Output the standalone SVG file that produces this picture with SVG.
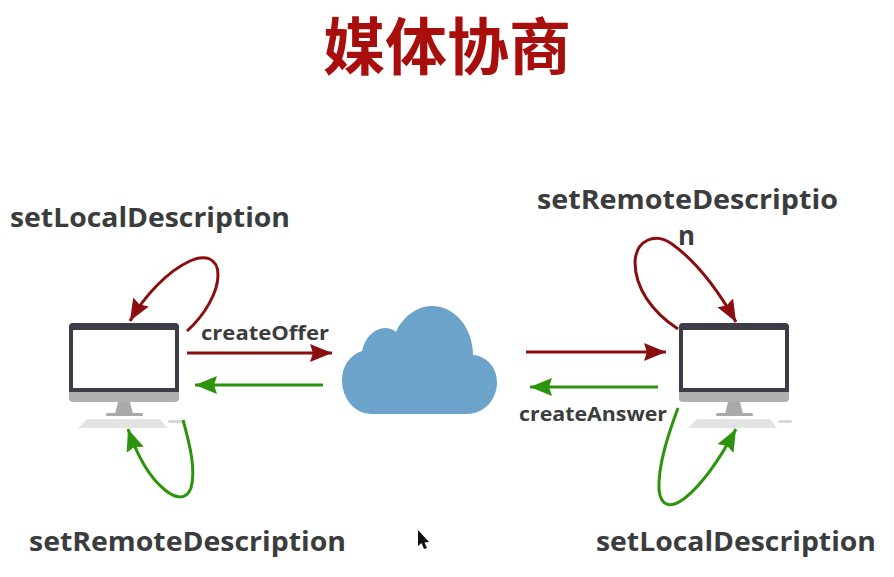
<svg xmlns="http://www.w3.org/2000/svg" width="894" height="577" viewBox="0 0 894 577">
<style>
.t{font-family:"Open Sans","Noto Sans","Liberation Sans",sans-serif;font-weight:700;fill:#3a3c3e}
.big{font-size:26px}
.small{font-size:19px}
.title{font-family:"Noto Sans CJK SC","Liberation Sans",sans-serif;font-weight:700;font-size:62px;fill:#a80f0c}
.c{fill:none;stroke-width:3px;stroke-linecap:butt}
.red{stroke:#8b0e0e}
.green{stroke:#2c930c}
</style>
<defs>
<marker id="ar" markerUnits="userSpaceOnUse" markerWidth="24" markerHeight="20" refX="22" refY="9" orient="auto"><path d="M0,0L22,9L0,18L3,9Z" fill="#8b0e0e"/></marker>
<marker id="ag" markerUnits="userSpaceOnUse" markerWidth="24" markerHeight="20" refX="22" refY="9" orient="auto"><path d="M0,0L22,9L0,18L3,9Z" fill="#2c930c"/></marker>
<g id="pc">
<rect x="69" y="323" width="110" height="79" rx="4" fill="#b0b0b0"/>
<path d="M69,392V327a4,4 0 0 1 4-4H175a4,4 0 0 1 4,4V392Z" fill="#3b3d47"/>
<rect x="73" y="330" width="102" height="58" fill="#fff"/>
<path d="M118,402H130L133,414H115Z" fill="#a9a9a9"/>
<rect x="106" y="413" width="37" height="3" rx="1.5" fill="#a9a9a9"/>
<path d="M87,419H160L167,428H78Z" fill="#e3e3e3"/>
<rect x="168" y="420" width="14" height="3" rx="1.5" fill="#d8d8d8"/>
</g>
</defs>
<rect width="894" height="577" fill="#fff"/>
<text id="title" class="title" x="447" y="70" text-anchor="middle" textLength="248" lengthAdjust="spacingAndGlyphs">媒体协商</text>
<g id="computer-left"><use href="#pc"/></g>
<g id="computer-right"><use href="#pc" x="610"/></g>
<g id="cloud"><path d="M372,414C354,414 342,398 342,380C342,366 350,355 362,351C365,337 375,328 385,328C389,328 393,329 396,332C403,316 418,306 432,306C455,306 473,328 473,355C487,356 497,368 497,382C497,400 484,414 467,414Z" fill="#6ba3cb"/></g>
<g id="connectors">
<path class="c red" marker-end="url(#ar)" d="M187,331C205,315 218,292 218,275C218,258 205,254 190,261C168,271 145,295 130,321"/>
<path class="c red" marker-end="url(#ar)" d="M187,353H332"/>
<path class="c green" marker-end="url(#ag)" d="M323,385H195"/>
<path class="c green" marker-end="url(#ag)" d="M183,420C190,445 196,470 191,488C186,501 175,498 165,490C150,478 137,455 128,429"/>
<path class="c red" marker-end="url(#ar)" d="M678,329C652,312 635,288 635,262C636,240 655,232 672,244C697,262 718,290 736,322"/>
<path class="c red" marker-end="url(#ar)" d="M526,352H666"/>
<path class="c green" marker-end="url(#ag)" d="M658,387H530"/>
<path class="c green" marker-end="url(#ag)" d="M678,408C668,435 658,465 659,490C661,508 672,508 685,498C705,482 722,455 736,429"/>
</g>
<g id="labels">
<text class="t big" x="10" y="227" textLength="280" lengthAdjust="spacingAndGlyphs">setLocalDescription</text>
<text class="t small" x="201" y="340" textLength="128" lengthAdjust="spacingAndGlyphs">createOffer</text>
<text class="t big" x="537" y="209" textLength="301" lengthAdjust="spacingAndGlyphs">setRemoteDescriptio</text>
<text class="t big" x="678" y="245" textLength="17" lengthAdjust="spacingAndGlyphs">n</text>
<text class="t small" x="519" y="421" textLength="148" lengthAdjust="spacingAndGlyphs">createAnswer</text>
<text class="t big" x="29" y="551" textLength="317" lengthAdjust="spacingAndGlyphs">setRemoteDescription</text>
<text class="t big" x="596" y="551" textLength="280" lengthAdjust="spacingAndGlyphs">setLocalDescription</text>
</g>
<path id="cursor" d="M418,530V546L421.500,543L424,549L427,548L424.500,542.500L429,542Z" fill="#111"/>
</svg>
